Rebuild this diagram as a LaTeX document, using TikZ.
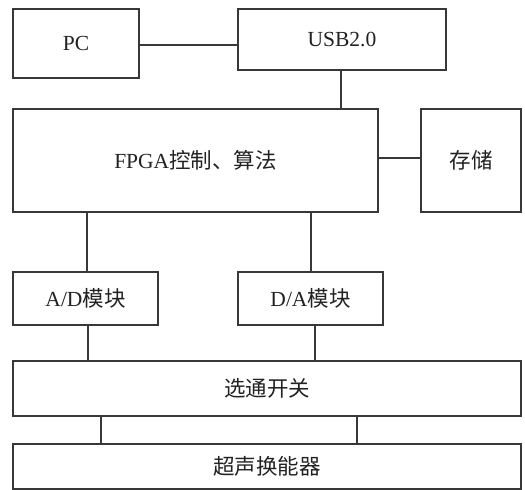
\documentclass[tikz,border=0pt]{standalone}
\usepackage{fontspec}
\setmainfont{Liberation Serif}
\newfontfamily\cjk{Noto Sans CJK SC}
\usetikzlibrary{calc}
\definecolor{ln}{HTML}{383838}
\definecolor{tx}{HTML}{222222}
\begin{document}
\begin{tikzpicture}[x=1pt,y=-1pt,
  blk/.style={draw=ln,line width=1.7pt,fill=white,inner sep=0pt,text=tx,font=\fontsize{21.5}{25}\selectfont},
  conn/.style={draw=ln,line width=1.7pt}]
\useasboundingbox (0,0) rectangle (525,490);
\node[blk,minimum width=126pt,minimum height=69pt] (pc) at (76,43.5) {PC};
\node[blk,minimum width=208pt,minimum height=61pt] (usb) at (342,39.5) {USB2.0};
\node[blk,minimum width=365pt,minimum height=103pt] (fpga) at (195.5,160.5) {FPGA{\cjk 控制、算法}};
\node[blk,minimum width=100pt,minimum height=103pt] (store) at (471,160.5) {\cjk 存储};
\node[blk,minimum width=145pt,minimum height=53pt] (ad) at (85.5,298.5) {A/D{\cjk 模块}};
\node[blk,minimum width=145pt,minimum height=53pt] (da) at (310.5,298.5) {D/A{\cjk 模块}};
\node[blk,minimum width=508pt,minimum height=55pt] (sw) at (267,388.5) {\cjk 选通开关};
\node[blk,minimum width=508pt,minimum height=45pt] (us) at (267,466.5) {\cjk 超声换能器};
\draw[conn] ([yshift=-1.5pt]pc.east) -- ([yshift=-1.5pt]pc.east -| usb.west);
\draw[conn] ([xshift=-1pt]usb.south) -- ([xshift=-1pt]usb.south |- fpga.north);
\draw[conn] ([yshift=2.5pt]fpga.east) -- ([yshift=2.5pt]fpga.east -| store.west);
\draw[conn] ([xshift=1.5pt]ad.north) -- ([xshift=1.5pt]ad.north |- fpga.south);
\draw[conn] ([xshift=0.5pt]da.north) -- ([xshift=0.5pt]da.north |- fpga.south);
\draw[conn] ([xshift=2.5pt]ad.south) -- ([xshift=2.5pt]ad.south |- sw.north);
\draw[conn] ([xshift=4.5pt]da.south) -- ([xshift=4.5pt]da.south |- sw.north);
\coordinate (s1) at ($(sw.south west)!0.174!(sw.south east)$);
\coordinate (s2) at ($(sw.south west)!0.677!(sw.south east)$);
\draw[conn] (s1) -- (s1 |- us.north);
\draw[conn] (s2) -- (s2 |- us.north);
\end{tikzpicture}
\end{document}
